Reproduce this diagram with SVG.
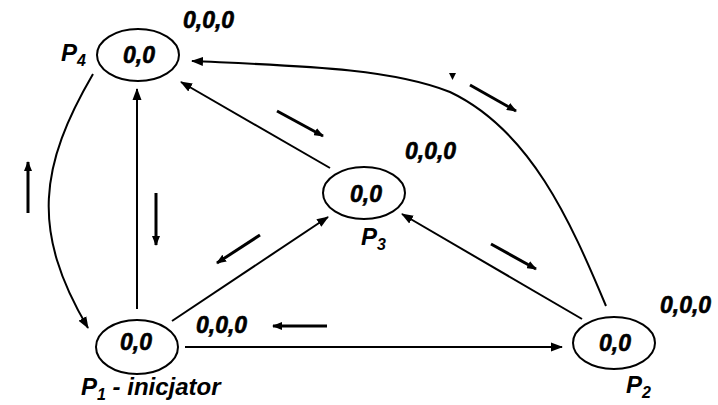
<svg xmlns="http://www.w3.org/2000/svg" width="718" height="405" viewBox="0 0 718 405">
<defs>
<marker id="ah" markerUnits="userSpaceOnUse" markerWidth="12" markerHeight="10" refX="11" refY="5" orient="auto"><path d="M0,0.5 L12,5 L0,9.5 z" fill="#000"/></marker>
<marker id="sh" markerUnits="userSpaceOnUse" markerWidth="10" markerHeight="8" refX="9" refY="4" orient="auto"><path d="M0,0 L10,4 L0,8 z" fill="#000"/></marker>
</defs>
<style>
.node{fill:#fff;stroke:#000;stroke-width:2}
.val{font-family:"Liberation Sans",Arial,sans-serif;font-weight:bold;font-style:italic;font-size:23px;fill:#000;stroke:#000;stroke-width:0.6}
.name{font-family:"Liberation Sans",Arial,sans-serif;font-style:italic;font-weight:bold;font-size:24px;fill:#000}
.sub{font-size:16px}
.conn{fill:none;stroke:#000;stroke-width:2;marker-end:url(#ah)}
.msg{fill:none;stroke:#000;stroke-width:3;marker-end:url(#sh)}
</style>
<rect width="718" height="405" fill="#fff"/>
<g id="connectors">
<line class="conn" x1="137" y1="309" x2="137" y2="89"/>
<path class="conn" d="M93 74 C 40 165, 30 230, 88 328"/>
<line class="conn" x1="172" y1="321" x2="328" y2="217"/>
<line class="conn" x1="185" y1="347" x2="562" y2="347"/>
<line class="conn" x1="330" y1="168" x2="181" y2="82"/>
<line class="conn" x1="582" y1="319" x2="402" y2="214"/>
<path class="conn" d="M606 306 C 570 220, 530 130, 450 92 C 390 68, 300 66, 192 61"/>
</g>
<g id="messages">
<line class="msg" x1="28" y1="213" x2="28" y2="162"/>
<line class="msg" x1="156" y1="193" x2="156" y2="245"/>
<line class="msg" x1="260" y1="235" x2="217" y2="263"/>
<line class="msg" x1="327" y1="326" x2="273" y2="326"/>
<line class="msg" x1="277" y1="111" x2="323" y2="136"/>
<line class="msg" x1="491" y1="244" x2="536" y2="269"/>
<line class="msg" x1="470" y1="85" x2="516" y2="111"/>
<path d="M449 73 L456 73 L452.5 80 z" fill="#000"/>
</g>
<g id="P4">
<ellipse class="node" cx="138" cy="55" rx="41" ry="26"/>
<text class="val" x="139" y="63" text-anchor="middle">0,0</text>
<text class="name" x="61" y="61">P<tspan class="sub" dy="5">4</tspan></text>
<text class="val" x="183" y="28">0,0,0</text>
</g>
<g id="P3">
<ellipse class="node" cx="364" cy="193" rx="41" ry="26"/>
<text class="val" x="366" y="202" text-anchor="middle">0,0</text>
<text class="name" x="361" y="245">P<tspan class="sub" dy="5">3</tspan></text>
<text class="val" x="405" y="159">0,0,0</text>
</g>
<g id="P2">
<ellipse class="node" cx="614" cy="343" rx="41" ry="26"/>
<text class="val" x="615" y="351" text-anchor="middle">0,0</text>
<text class="name" x="626" y="393">P<tspan class="sub" dy="5">2</tspan></text>
<text class="val" x="660" y="313">0,0,0</text>
</g>
<g id="P1">
<ellipse class="node" cx="137" cy="347" rx="41" ry="27"/>
<text class="val" x="136" y="350" text-anchor="middle">0,0</text>
<text class="name" x="81" y="395">P<tspan class="sub" dy="5">1</tspan><tspan dy="-5"> - inicjator</tspan></text>
<text class="val" x="196" y="333">0,0,0</text>
</g>
</svg>
